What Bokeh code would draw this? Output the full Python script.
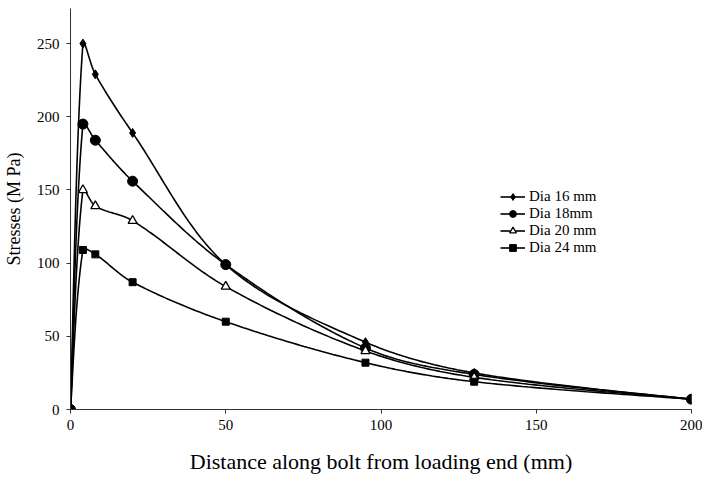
import numpy as np
from bokeh.plotting import figure
from bokeh.models import Legend, LegendItem, FixedTicker, Range1d
from bokeh.embed import file_html
from bokeh.resources import INLINE

# ---- data ----
distance = [0, 4, 8, 20, 50, 95, 130, 200]
dia16 = [0, 250, 229, 189, 99, 46, 25, 7]
dia18 = [0, 195, 184, 156, 99, 42, 24, 7]
dia20 = [0, 150, 139, 129, 84, 40, 22, 7]
dia24 = [0, 109, 106, 87, 60, 32, 19, 7]
labels = ["Dia 16 mm", "Dia 18mm", "Dia 20 mm", "Dia 24 mm"]
x_ticks = [0, 50, 100, 150, 200]
y_ticks = [0, 50, 100, 150, 200, 250]

FONT = "Liberation Serif"

W, H = 702, 476
BL, BR, BT, BB = 70, 11, 8, 66
X0, X1, Y0, Y1 = 0, 200, 0, 274
FW, FH = W - BL - BR, H - BT - BB
SX, SY = FW / (X1 - X0), FH / (Y1 - Y0)


def smooth(xs, ys, n=40, f=1.0 / 3.0):
    """Excel-like smoothed line: Bezier segments, tangents weighted by
    screen-space segment lengths (limits overshoot on short segments)."""
    Q = np.column_stack([np.asarray(xs, float) * SX, np.asarray(ys, float) * SY])
    m = len(Q)
    T = np.zeros_like(Q)
    T[0] = Q[1] - Q[0]
    T[-1] = Q[-1] - Q[-2]
    for i in range(1, m - 1):
        T[i] = Q[i + 1] - Q[i - 1]
    d = np.linalg.norm(np.diff(Q, axis=0), axis=1)
    out = []
    for i in range(m - 1):
        p1, p2 = Q[i], Q[i + 1]
        if i == 0:
            c1 = p1 + T[i] / 6.0
        else:
            c1 = p1 + T[i] * f * d[i] / (d[i - 1] + d[i])
        if i + 1 == m - 1:
            c2 = p2 - T[i + 1] / 6.0
        else:
            c2 = p2 - T[i + 1] * f * d[i] / (d[i] + d[i + 1])
        t = np.linspace(0, 1, n)[:, None]
        seg = ((1 - t) ** 3) * p1 + 3 * ((1 - t) ** 2) * t * c1 + 3 * (1 - t) * t ** 2 * c2 + t ** 3 * p2
        out.append(seg if i == 0 else seg[1:])
    s = np.vstack(out)
    return s[:, 0] / SX, s[:, 1] / SY


p = figure(width=W, height=H, output_backend="svg", toolbar_location=None,
           x_range=Range1d(X0, X1), y_range=Range1d(Y0, Y1),
           min_border_left=BL, min_border_right=BR, min_border_top=BT, min_border_bottom=BB)
p.outline_line_color = None
p.xgrid.visible = False
p.ygrid.visible = False
p.background_fill_color = "white"

series = [dia16, dia18, dia20, dia24]
items = []
for lab, ys in zip(labels, series):
    sx, sy = smooth(distance, ys)
    r_line = p.line(sx, sy, line_color="black", line_width=1.6)
    if lab == "Dia 16 mm":
        r_mk = p.scatter(distance, ys, marker="diamond", size=9, color="black")
    elif lab == "Dia 18mm":
        r_mk = p.scatter(distance, ys, marker="circle", size=10, color="black")
    elif lab == "Dia 20 mm":
        r_mk = p.scatter(distance, ys, marker="triangle", size=9, line_color="black",
                         fill_color="white", line_width=1.3)
    else:
        r_mk = p.scatter(distance, ys, marker="square", size=7, color="black")
    items.append(LegendItem(label=lab, renderers=[r_line, r_mk]))

legend = Legend(items=items, location=(430, 153), border_line_alpha=0,
                background_fill_alpha=0, padding=0, margin=0, spacing=0,
                glyph_width=25, glyph_height=17, label_standoff=4,
                label_text_font=FONT, label_text_font_size="15px",
                label_text_color="black", label_height=17)
p.add_layout(legend, "center")

for ax in (p.xaxis[0], p.yaxis[0]):
    ax.axis_line_color = "#333333"
    ax.axis_line_width = 1
    ax.major_tick_line_color = "#333333"
    ax.major_tick_out = 4
    ax.major_tick_in = 0
    ax.minor_tick_line_color = None
    ax.major_label_text_font = FONT
    ax.major_label_text_font_size = "15px"
    ax.major_label_text_color = "black"
    ax.axis_label_text_font = FONT
    ax.axis_label_text_font_style = "normal"
    ax.axis_label_text_color = "black"

p.xaxis.ticker = FixedTicker(ticks=x_ticks)
p.yaxis.ticker = FixedTicker(ticks=y_ticks)
p.xaxis.axis_label = "Distance along bolt from loading end (mm)"
p.yaxis.axis_label = "Stresses (M Pa)"
p.xaxis.axis_label_text_font_size = "22px"
p.yaxis.axis_label_text_font_size = "18px"
p.xaxis.major_label_standoff = 6
p.yaxis.major_label_standoff = 7
p.xaxis.axis_label_standoff = 16
p.yaxis.axis_label_standoff = 10

open("out.html", "w").write(file_html(p, INLINE))
